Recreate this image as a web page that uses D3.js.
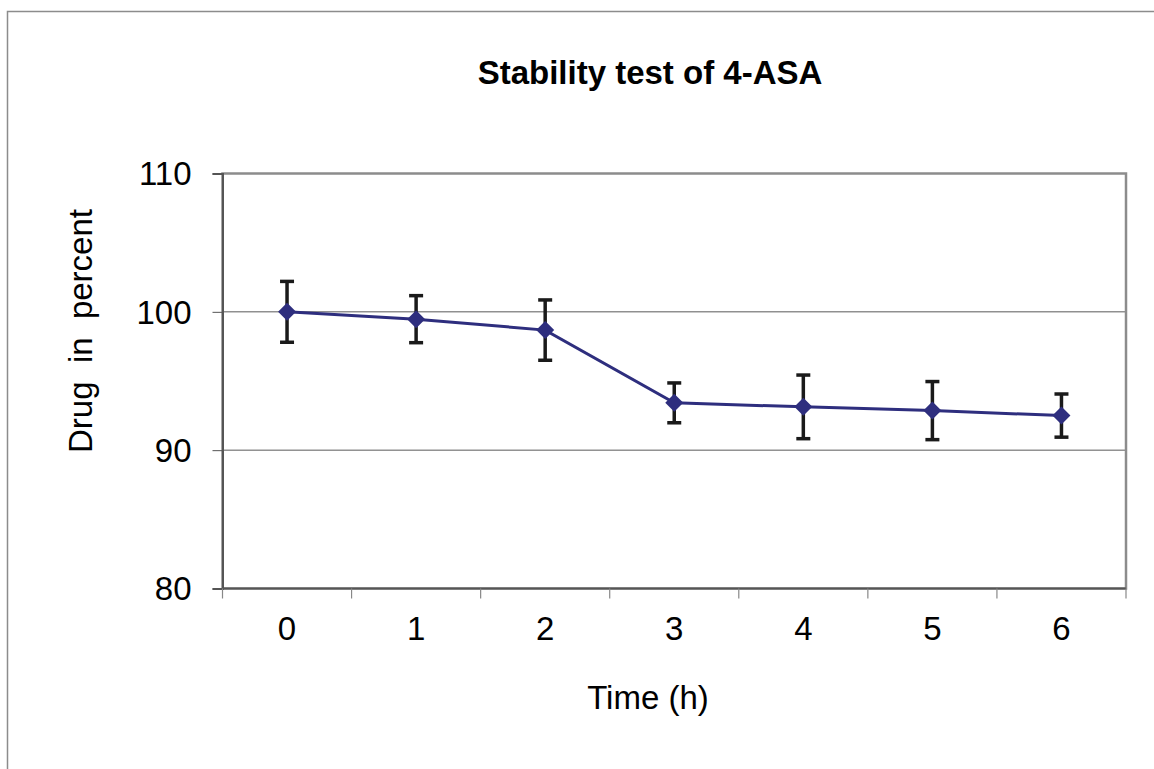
<!DOCTYPE html>
<html>
<head>
<meta charset="utf-8">
<script src="https://cdn.jsdelivr.net/npm/d3@7"></script>
<style>
  body { margin: 0; background: #fff; }
  text { font-family: "Liberation Sans", Arial, sans-serif; }
</style>
</head>
<body>
<svg id="chart"></svg>
<script>
// data
const hours = ['0', '1', '2', '3', '4', '5', '6'];
const drugPercent = [100.0, 99.47, 98.68, 93.42, 93.13, 92.86, 92.5];
const errorSD = [2.2, 1.7, 2.18, 1.44, 2.3, 2.1, 1.56];
const yTicks = [80, 90, 100, 110];

const config = {
  containerWidth: 1154,
  containerHeight: 769,
  margin: { top: 173.5, right: 28, bottom: 180.5, left: 222.5 }
};
config.width = config.containerWidth - config.margin.left - config.margin.right;
config.height = config.containerHeight - config.margin.top - config.margin.bottom;

const svg = d3.select('#chart')
    .attr('width', config.containerWidth)
    .attr('height', config.containerHeight);

// outer chart frame
svg.append('rect')
    .attr('x', 7.5)
    .attr('y', 11.5)
    .attr('width', 1160)
    .attr('height', 780)
    .attr('fill', 'none')
    .attr('stroke', '#8c8c8c')
    .attr('stroke-width', 1.5);

const chartArea = svg.append('g')
    .attr('transform', `translate(${config.margin.left},${config.margin.top})`);

const x = d3.scaleBand()
    .domain(hours)
    .range([0, config.width]);

const y = d3.scaleLinear()
    .domain([80, 110])
    .range([config.height, 0]);

// gridlines
chartArea.selectAll('.grid')
    .data(yTicks.filter(d => d > 80 && d < 110))
  .join('line')
    .attr('class', 'grid')
    .attr('x1', 0)
    .attr('x2', config.width)
    .attr('y1', d => y(d))
    .attr('y2', d => y(d))
    .attr('stroke', '#5a5a5a')
    .attr('stroke-width', 1);

// plot area frame
chartArea.append('rect')
    .attr('width', config.width)
    .attr('height', config.height)
    .attr('fill', 'none')
    .attr('stroke', '#8c8c8c')
    .attr('stroke-width', 2.5);

// y axis
const yAxis = chartArea.append('g')
    .call(d3.axisLeft(y).tickValues(yTicks).tickSize(10).tickPadding(21));
yAxis.select('.domain').attr('stroke', '#555').attr('stroke-width', 2);
yAxis.selectAll('.tick line').attr('stroke', '#555');
yAxis.selectAll('.tick text')
    .attr('font-size', '33px')
    .attr('fill', '#000')
    .attr('dy', '0.34em')
    .attr('font-family', '"Liberation Sans", Arial, sans-serif');

// x axis: ticks at band boundaries, labels at band centres
const xAxis = chartArea.append('g')
    .attr('transform', `translate(0,${config.height})`);
xAxis.append('line')
    .attr('x1', 0).attr('x2', config.width)
    .attr('stroke', '#555').attr('stroke-width', 2);
xAxis.selectAll('.xtick')
    .data(d3.range(hours.length + 1))
  .join('line')
    .attr('class', 'xtick')
    .attr('x1', i => i * x.step())
    .attr('x2', i => i * x.step())
    .attr('y1', 0).attr('y2', 10)
    .attr('stroke', '#888').attr('stroke-width', 1.2);
xAxis.selectAll('.xlabel')
    .data(hours)
  .join('text')
    .attr('class', 'xlabel')
    .attr('x', d => x(d) + x.bandwidth() / 2)
    .attr('y', 51)
    .attr('text-anchor', 'middle')
    .attr('font-size', '33px')
    .attr('fill', '#000')
    .text(d => d);

const points = hours.map((h, i) => ({ h: h, v: drugPercent[i], e: errorSD[i] }));
const cx = d => x(d.h) + x.bandwidth() / 2;

// error bars
const errs = chartArea.selectAll('.err')
    .data(points)
  .join('g')
    .attr('class', 'err')
    .attr('stroke', '#1a1a1a')
    .attr('stroke-width', 3.5);
errs.append('line')
    .attr('x1', cx).attr('x2', cx)
    .attr('y1', d => y(d.v + d.e)).attr('y2', d => y(d.v - d.e));
errs.append('line')
    .attr('x1', d => cx(d) - 7).attr('x2', d => cx(d) + 7)
    .attr('y1', d => y(d.v + d.e)).attr('y2', d => y(d.v + d.e));
errs.append('line')
    .attr('x1', d => cx(d) - 7).attr('x2', d => cx(d) + 7)
    .attr('y1', d => y(d.v - d.e)).attr('y2', d => y(d.v - d.e));

// series line
chartArea.append('path')
    .datum(points)
    .attr('fill', 'none')
    .attr('stroke', '#2e2e7e')
    .attr('stroke-width', 3)
    .attr('d', d3.line().x(cx).y(d => y(d.v)));

// diamond markers
chartArea.selectAll('.marker')
    .data(points)
  .join('path')
    .attr('class', 'marker')
    .attr('transform', d => `translate(${cx(d)},${y(d.v)})`)
    .attr('d', 'M0,-9L9,0L0,9L-9,0Z')
    .attr('fill', '#2e2e7e');

// title and axis labels
svg.append('text')
    .attr('x', 650)
    .attr('y', 84)
    .attr('text-anchor', 'middle')
    .attr('font-size', '33px')
    .attr('font-weight', 'bold')
    .text('Stability test of 4-ASA');

svg.append('text')
    .attr('x', 648)
    .attr('y', 709)
    .attr('text-anchor', 'middle')
    .attr('font-size', '33px')
    .text('Time (h)');

svg.append('text')
    .attr('transform', 'translate(92,331) rotate(-90)')
    .attr('text-anchor', 'middle')
    .attr('font-size', '33px')
    .attr('xml:space', 'preserve')
    .style('white-space', 'pre')
    .text('Drug  in  percent');
</script>
</body>
</html>
